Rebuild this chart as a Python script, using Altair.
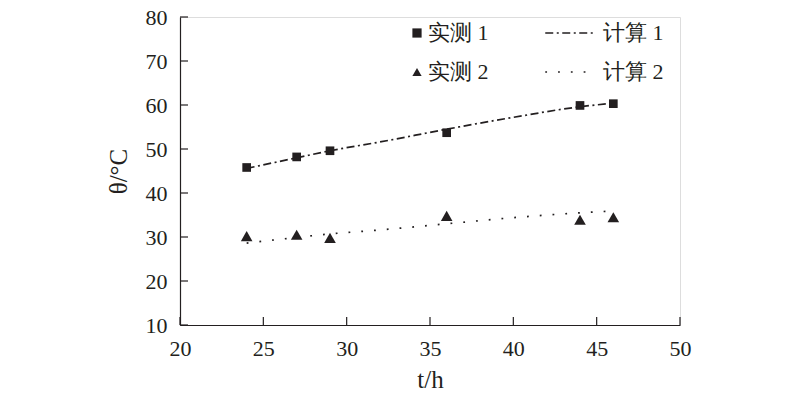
import altair as alt
import pandas as pd

# measured data
t_meas = [24, 27, 29, 36, 44, 46]
meas1 = [45.8, 48.2, 49.6, 53.7, 59.9, 60.3]
meas2 = [30.2, 30.5, 29.8, 34.8, 33.9, 34.5]
# calculated curves
t_calc = [24, 27, 29, 32, 36, 40, 44, 46]
calc1 = [45.6, 48.0, 49.6, 51.6, 54.5, 57.2, 59.6, 60.4]
calc2 = [28.6, 29.9, 30.7, 31.6, 33.0, 34.4, 35.5, 35.9]

x_ticks = [20, 25, 30, 35, 40, 45, 50]
y_ticks = [10, 20, 30, 40, 50, 60, 70, 80]

meas_names = ["实测 1", "实测 2"]
calc_names = ["计算 1", "计算 2"]

INK = "#231f20"
FONT = "Liberation Serif"
FS = 22
TFS = 25

meas_df = pd.DataFrame(
    {"t": t_meas * 2, "v": meas1 + meas2,
     "s": [meas_names[0]] * len(t_meas) + [meas_names[1]] * len(t_meas)}
)
calc_df = pd.DataFrame(
    {"t": t_calc * 2, "v": calc1 + calc2,
     "s": [calc_names[0]] * len(t_calc) + [calc_names[1]] * len(t_calc)}
)
xt_df = pd.DataFrame({"t": x_ticks})
yt_df = pd.DataFrame({"v": y_ticks})

W, H = 500, 308

xs = alt.Scale(domain=[20, 50], nice=False, zero=False)
ys = alt.Scale(domain=[10, 80], nice=False, zero=False)

x_axis = alt.Axis(values=x_ticks, ticks=False, grid=False, domainColor=INK,
                  domainWidth=1.2, labelFontSize=FS, labelColor=INK,
                  labelPadding=13, labelFlush=False, title="t/h", titleFontSize=TFS,
                  titleFontWeight="normal", titleColor=INK, titlePadding=8,
                  labelFont=FONT, titleFont=FONT)
y_axis = alt.Axis(values=y_ticks, ticks=False, grid=False, domainColor=INK,
                  domainWidth=1.2, labelFontSize=FS, labelColor=INK,
                  labelPadding=13, labelFlush=False, title="θ/°C", titleFontSize=TFS,
                  titleFontWeight="normal", titleColor=INK, titlePadding=14,
                  labelFont=FONT, titleFont=FONT)

points = alt.Chart(meas_df).mark_point(filled=True, color=INK, opacity=1).encode(
    x=alt.X("t:Q", scale=xs, axis=x_axis),
    y=alt.Y("v:Q", scale=ys, axis=y_axis),
    shape=alt.Shape("s:N", scale=alt.Scale(domain=meas_names, range=["square", "triangle-up"]),
                    legend=alt.Legend(title=None, orient="none", legendX=226, legendY=5,
                                      labelFontSize=FS, labelFont=FONT, labelColor=INK,
                                      symbolSize=85, symbolFillColor=INK, symbolStrokeColor=INK,
                                      rowPadding=17, labelOffset=0)),
    size=alt.Size("s:N", scale=alt.Scale(domain=meas_names, range=[75, 135]), legend=None),
)

lines = alt.Chart(calc_df).mark_line(color=INK, strokeWidth=1.7, interpolate="monotone").encode(
    x=alt.X("t:Q", scale=xs),
    y=alt.Y("v:Q", scale=ys),
    strokeDash=alt.StrokeDash("s:N", scale=alt.Scale(domain=calc_names, range=[[8, 3.5, 2, 3.5], [1.8, 11]]),
                              legend=alt.Legend(title=None, orient="none", legendX=379, legendY=5,
                                                labelFontSize=FS, labelFont=FONT, labelColor=INK,
                                                symbolType="M-4.5,0H4.5", symbolSize=121,
                                                symbolStrokeColor=INK, symbolStrokeWidth=1.7,
                                                rowPadding=17, labelOffset=22)),
)

ytick_rules = alt.Chart(yt_df).mark_rule(color=INK, strokeWidth=1.2).encode(
    y=alt.Y("v:Q", scale=ys), x=alt.value(0), x2=alt.value(8)
)
xtick_rules = alt.Chart(xt_df).mark_rule(color=INK, strokeWidth=1.2).encode(
    x=alt.X("t:Q", scale=xs), y=alt.value(H), y2=alt.value(H - 8)
)

chart = alt.layer(ytick_rules, xtick_rules, lines, points).resolve_legend(
    shape="independent", strokeDash="independent"
).properties(
    width=W, height=H,
    autosize=alt.AutoSizeParams(type="none"),
    padding={"left": 172, "top": 9, "right": 112, "bottom": 78},
    background="white",
).configure_view(stroke=None).configure(font=FONT)

chart.save("out.html", embed_options={"renderer": "svg", "actions": False})
